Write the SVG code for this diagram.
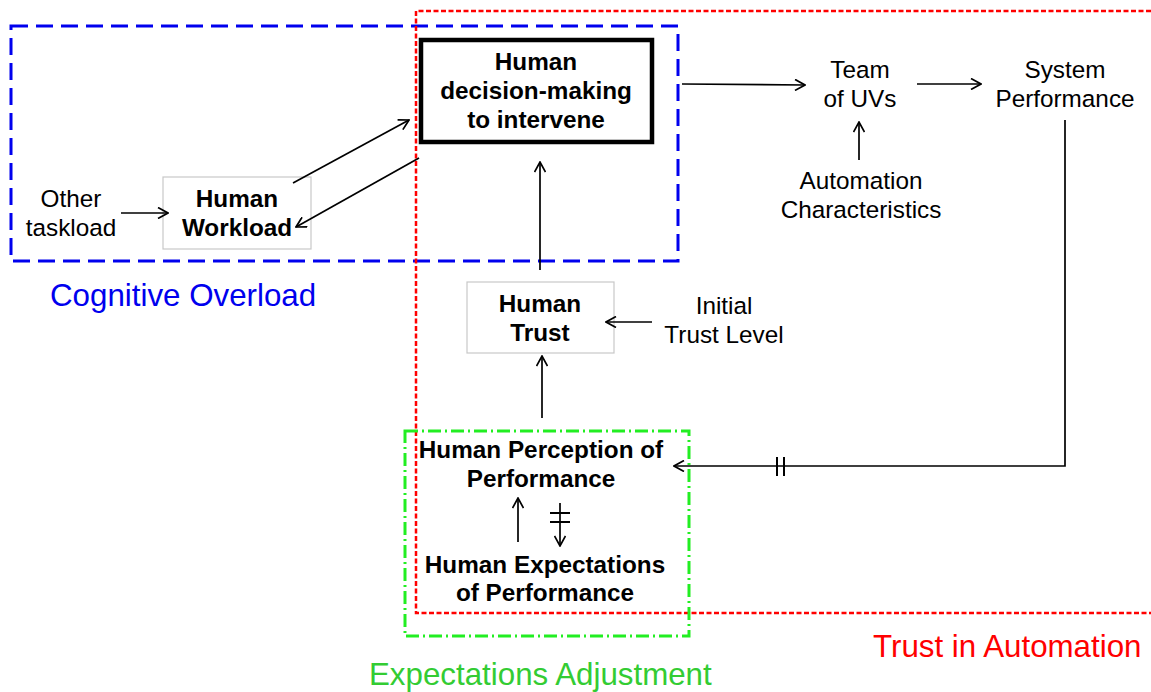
<svg xmlns="http://www.w3.org/2000/svg" width="1151" height="692" viewBox="0 0 1151 692">
  <style>
    text { font-family: "Liberation Sans", Arial, sans-serif; text-anchor: middle; fill: #000; }
    .b { font-weight: bold; font-size: 24.3px; }
    .r { font-size: 24.3px; }
    .lbl { font-size: 31.3px; text-anchor: start; }
    .box { fill: #fff; stroke: #c8c8c8; stroke-width: 1.2; }
    .wire { fill: none; stroke: #000; stroke-width: 1.7; }
    .arr { marker-end: url(#open); }
    .bar { stroke: #000; stroke-width: 2; }
  </style>
  <defs>
    <marker id="open" viewBox="0 0 12 12" refX="11" refY="6" markerWidth="12" markerHeight="12" markerUnits="userSpaceOnUse" orient="auto">
      <path d="M1,0.5 L11,6 L1,11.5" fill="none" stroke="#000" stroke-width="1.7"/>
    </marker>
  </defs>
  <rect width="1151" height="692" fill="#fff"/>

  <!-- group outlines -->
  <g id="regions">
    <rect x="11" y="26" width="667" height="235" fill="none" stroke="#0000ee" stroke-width="3" stroke-dasharray="17 8"/>
    <path d="M1151,11 H416 V613 H1151" fill="none" stroke="#ff0000" stroke-width="2.5" stroke-dasharray="5 2.5"/>
    <rect x="405" y="431" width="284" height="205" fill="none" stroke="#22ee22" stroke-width="3" stroke-dasharray="13 4 2 4"/>
  </g>

  <g id="decision">
    <rect x="421" y="40" width="231" height="102" fill="#fff" stroke="#000" stroke-width="4.5"/>
    <text class="b" x="536" y="70">Human</text>
    <text class="b" x="536" y="99">decision-making</text>
    <text class="b" x="536" y="128">to intervene</text>
  </g>

  <g id="workload">
    <rect class="box" x="163" y="177" width="148" height="72"/>
    <text class="b" x="237" y="207">Human</text>
    <text class="b" x="237" y="236">Workload</text>
  </g>

  <g id="taskload">
    <text class="r" x="71" y="207">Other</text>
    <text class="r" x="71" y="236">taskload</text>
  </g>

  <g id="team">
    <text class="r" x="860" y="78">Team</text>
    <text class="r" x="860" y="107">of UVs</text>
  </g>

  <g id="system">
    <text class="r" x="1065" y="78">System</text>
    <text class="r" x="1065" y="107">Performance</text>
  </g>

  <g id="automation">
    <text class="r" x="861" y="189">Automation</text>
    <text class="r" x="861" y="218">Characteristics</text>
  </g>

  <g id="trust">
    <rect class="box" x="467" y="282" width="147" height="71"/>
    <text class="b" x="540" y="312">Human</text>
    <text class="b" x="540" y="341">Trust</text>
  </g>

  <g id="initial">
    <text class="r" x="724" y="314">Initial</text>
    <text class="r" x="724" y="343">Trust Level</text>
  </g>

  <g id="perception">
    <text class="b" x="541" y="458">Human Perception of</text>
    <text class="b" x="541" y="487">Performance</text>
  </g>

  <g id="expectations">
    <text class="b" x="545" y="573">Human Expectations</text>
    <text class="b" x="545" y="601">of Performance</text>
  </g>

  <!-- connectors -->
  <g id="connectors">
    <line class="wire arr" x1="121" y1="213" x2="168" y2="213"/>
    <line class="wire arr" x1="293" y1="183" x2="409" y2="120"/>
    <line class="wire arr" x1="419" y1="158" x2="296" y2="227"/>
    <line class="wire arr" x1="682" y1="84" x2="805" y2="85"/>
    <line class="wire arr" x1="917" y1="84" x2="981" y2="84"/>
    <line class="wire arr" x1="859" y1="160" x2="859" y2="122"/>
    <line class="wire arr" x1="540" y1="270" x2="540" y2="162"/>
    <line class="wire arr" x1="652" y1="322" x2="606" y2="322"/>
    <line class="wire arr" x1="542" y1="418" x2="542" y2="356"/>
    <line class="wire arr" x1="518" y1="542" x2="518" y2="498"/>
    <line class="wire arr" x1="560" y1="503" x2="560" y2="546"/>
    <line class="bar" x1="550" y1="513" x2="570" y2="513"/>
    <line class="bar" x1="550" y1="522" x2="570" y2="522"/>
    <path class="wire arr" d="M1065,120 V466 H674"/>
    <line class="bar" x1="777" y1="457" x2="777" y2="476"/>
    <line class="bar" x1="784" y1="457" x2="784" y2="476"/>
  </g>

  <g id="labels">
    <text class="lbl" x="50" y="306" style="fill:#0000ee">Cognitive Overload</text>
    <text class="lbl" x="873" y="657" style="fill:#ff0000">Trust in Automation</text>
    <text class="lbl" x="369" y="685" style="fill:#33cc33">Expectations Adjustment</text>
  </g>
</svg>
